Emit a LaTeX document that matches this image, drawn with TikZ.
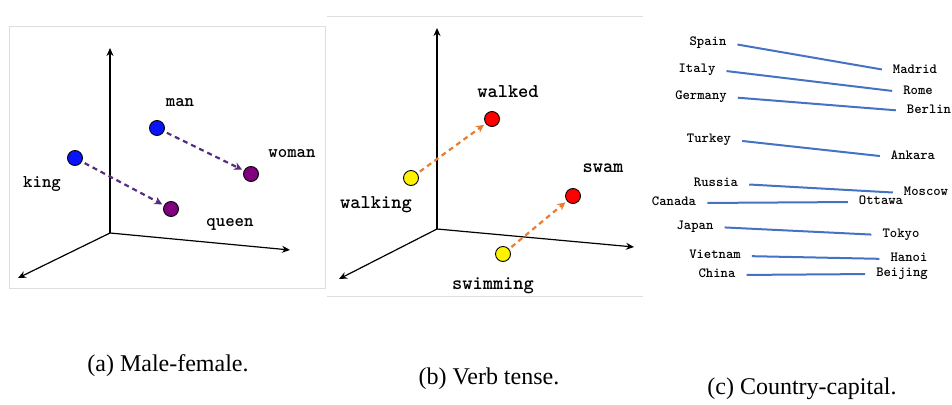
\documentclass[tikz,border=0pt]{standalone}
\usepackage{fontspec}
\setmainfont{Liberation Serif}
\newfontfamily\wordfont{lmmonolt10-bold.otf}
\usetikzlibrary{arrows.meta, positioning}

\definecolor{maleblue}{RGB}{10,20,250}
\definecolor{femalepurple}{RGB}{128,0,128}
\definecolor{shiftpurple}{RGB}{85,45,125}
\definecolor{tenseorange}{RGB}{232,125,50}
\definecolor{capblue}{RGB}{68,114,196}

\begin{document}
\begin{tikzpicture}[
        x=1pt, y=-1pt,
        frame/.style={draw=black!13, line width=1pt},
        axis/.style={-{Stealth[length=8pt,width=7pt]}, line width=1.2pt},
        dot/.style={circle, draw, line width=0.9pt, minimum size=15pt, inner sep=0pt},
        word/.style={font=\wordfont\fontsize{18}{18}\selectfont, inner sep=1pt},
        city/.style={font=\wordfont\fontsize{14}{14}\selectfont, inner sep=2pt,
            text height=1.5ex, text depth=.25ex},
        vecarrow/.style={-{Stealth[length=8pt,width=8pt]}, dash pattern=on 5pt off 4pt,
            line width=2.2pt, shorten <=3pt, shorten >=2pt},
        link/.style={draw=capblue, line width=2pt, shorten <=9pt, shorten >=9pt},
        caption/.style={font=\fontsize{24}{24}\selectfont}
    ]
    \useasboundingbox (0,0) rectangle (952,404);

    % Panel borders
    \draw[frame] (9,27) rectangle (325,288);
    \draw[frame] (327,17) -- (643,17);
    \draw[frame] (327,296) -- (643,296);

    % Male-female: axes
    \coordinate (oa) at (110,233);
    \coordinate (za) at (110,48);
    \coordinate (xa) at (290,250);
    \coordinate (ya) at (18,278);
    \draw[axis] (oa) -- (za);
    \draw[axis] (oa) -- (xa);
    \draw[axis] (oa) -- (ya);

    % Male-female: words
    \node[dot, fill=maleblue] (king) at (75,158) {};
    \node[dot, fill=maleblue] (man) at (157,128) {};
    \node[dot, fill=femalepurple] (queen) at (171,209) {};
    \node[dot, fill=femalepurple] (woman) at (251,174) {};
    \node[word] (kinglbl) at (42,184) {king};
    \node[word] (manlbl) at (180,103) {man};
    \node[word] (queenlbl) at (230,224) {queen};
    \node[word] (womanlbl) at (292,154) {woman};
    \draw[vecarrow, draw=shiftpurple] (king) -- (queen);
    \draw[vecarrow, draw=shiftpurple] (man) -- (woman);

    % Verb tense: axes
    \coordinate (ob) at (437,229);
    \coordinate (zb) at (437,28);
    \coordinate (xb) at (634,247);
    \coordinate (yb) at (339,279);
    \draw[axis] (ob) -- (zb);
    \draw[axis] (ob) -- (xb);
    \draw[axis] (ob) -- (yb);

    % Verb tense: words
    \node[dot, fill=yellow] (walking) at (411,178) {};
    \node[dot, fill=red] (walked) at (492,119) {};
    \node[dot, fill=yellow] (swimming) at (503,254) {};
    \node[dot, fill=red] (swam) at (573,196) {};
    \node[word, font=\wordfont\fontsize{19.5}{19.5}\selectfont] (walkinglbl) at (376,205) {walking};
    \node[word, font=\wordfont\fontsize{19.5}{19.5}\selectfont] (walkedlbl) at (508,92) {walked};
    \node[word, font=\wordfont\fontsize{19.5}{19.5}\selectfont] (swimminglbl) at (493,286) {swimming};
    \node[word, font=\wordfont\fontsize{19.5}{19.5}\selectfont] (swamlbl) at (603,168) {swam};
    \draw[vecarrow, draw=tenseorange] (walking) -- (walked);
    \draw[vecarrow, draw=tenseorange] (swimming) -- (swam);

    % Country-capital: countries
    \node[city] (spain) at (708,43) {Spain};
    \node[city] (italy) at (697,70) {Italy};
    \node[city] (germany) at (701,97) {Germany};
    \node[city] (turkey) at (709,140) {Turkey};
    \node[city] (russia) at (716,184) {Russia};
    \node[city] (canada) at (674,203) {Canada};
    \node[city] (japan) at (695,227) {Japan};
    \node[city] (vietnam) at (715,256) {Vietnam};
    \node[city] (china) at (717,275) {China};
    % Country-capital: capitals
    \node[city] (madrid) at (915,71) {Madrid};
    \node[city] (rome) at (918,92) {Rome};
    \node[city] (berlin) at (929,111) {Berlin};
    \node[city] (ankara) at (913,157) {Ankara};
    \node[city] (moscow) at (926,193) {Moscow};
    \node[city] (ottawa) at (881,202) {Ottawa};
    \node[city] (tokyo) at (901,235) {Tokyo};
    \node[city] (hanoi) at (909,259) {Hanoi};
    \node[city] (beijing) at (902,274) {Beijing};
    \foreach \a/\b in {spain/madrid, italy/rome, germany/berlin, turkey/ankara,
        russia/moscow, canada/ottawa, japan/tokyo, vietnam/hanoi, china/beijing}
        \draw[link] (\a.east) -- (\b.west);

    % Captions
    \node[caption] (capa) at (168,366) {(a) Male-female.};
    \node[caption] (capb) at (489,379) {(b) Verb tense.};
    \node[caption] (capc) at (802,389) {(c) Country-capital.};
\end{tikzpicture}
\end{document}
